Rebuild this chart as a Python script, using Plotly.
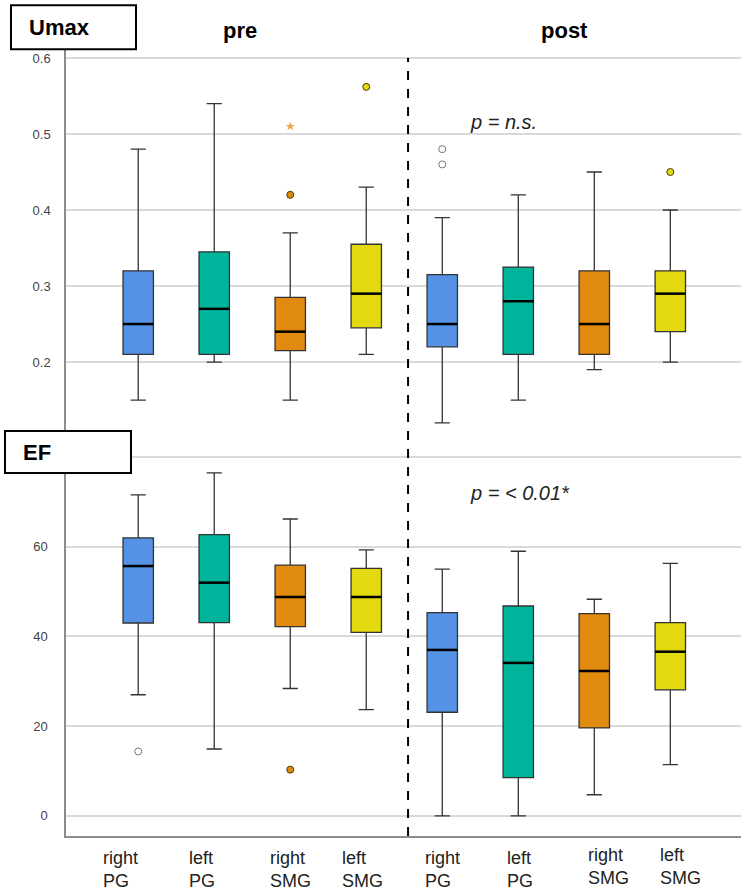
import plotly.graph_objects as go

# group order: pre (right PG, left PG, right SMG, left SMG), post (same)
group_labels = ["right<br>PG", "left<br>PG", "right<br>SMG", "left<br>SMG",
                "right<br>PG", "left<br>PG", "right<br>SMG", "left<br>SMG"]
positions = [0, 1, 2, 3, 4, 5, 6, 7]
box_colors = ["#5592e6", "#00b39b", "#e08a0e", "#e3d90f",
              "#5592e6", "#00b39b", "#e08a0e", "#e3d90f"]

# Umax box statistics
umax_low = [0.15, 0.20, 0.15, 0.21, 0.12, 0.15, 0.19, 0.20]
umax_q1 = [0.21, 0.21, 0.215, 0.245, 0.22, 0.21, 0.21, 0.24]
umax_med = [0.25, 0.27, 0.24, 0.29, 0.25, 0.28, 0.25, 0.29]
umax_q3 = [0.32, 0.345, 0.285, 0.355, 0.315, 0.325, 0.32, 0.32]
umax_high = [0.48, 0.54, 0.37, 0.43, 0.39, 0.42, 0.45, 0.40]

# Umax outliers
umax_fill_pos = [2, 3, 7]
umax_fill_val = [0.42, 0.562, 0.45]
umax_star_pos = [2]
umax_star_val = [0.51]
umax_open_pos = [4, 4]
umax_open_val = [0.48, 0.46]

# EF box statistics
ef_low = [27.0, 14.9, 28.4, 23.7, 0.0, 0.0, 4.7, 11.4]
ef_q1 = [43.0, 43.1, 42.2, 40.9, 23.1, 8.5, 19.6, 28.1]
ef_med = [55.7, 52.0, 48.8, 48.8, 37.0, 34.1, 32.3, 36.6]
ef_q3 = [62.0, 62.7, 55.9, 55.2, 45.3, 46.8, 45.1, 43.1]
ef_high = [71.6, 76.5, 66.2, 59.3, 55.0, 59.0, 48.3, 56.3]

# EF outliers
ef_fill_pos = [2]
ef_fill_val = [10.3]
ef_open_pos = [0]
ef_open_val = [14.35]

FONT = "Liberation Sans, Arial, sans-serif"
BOX_W = 0.4

fig = go.Figure()


def add_panel(low, q1, med, q3, high, yaxis):
    for i, p in enumerate(positions):
        fig.add_trace(go.Box(x=[p], q1=[q1[i]], median=[med[i]], q3=[q3[i]],
                             lowerfence=[low[i]], upperfence=[high[i]],
                             width=BOX_W, whiskerwidth=0.5,
                             fillcolor=box_colors[i],
                             line=dict(color="#333333", width=1.3),
                             boxpoints=False, hoverinfo="skip",
                             xaxis="x", yaxis=yaxis, showlegend=False))
    # thicker black median lines on top
    mx, my = [], []
    for i, p in enumerate(positions):
        mx += [p - BOX_W / 2, p + BOX_W / 2, None]
        my += [med[i], med[i], None]
    fig.add_trace(go.Scatter(x=mx, y=my, mode="lines",
                             line=dict(color="black", width=2.5),
                             xaxis="x", yaxis=yaxis, showlegend=False,
                             hoverinfo="skip"))


def add_points(pos, val, yaxis, symbol, fill=True):
    if fill:
        marker = dict(symbol=symbol, size=7,
                      color=[box_colors[p] for p in pos],
                      line=dict(color="#4a3a10", width=1))
    else:
        marker = dict(symbol=symbol, size=7, color="#777777",
                      line=dict(width=1))
    fig.add_trace(go.Scatter(x=pos, y=val, mode="markers", marker=marker,
                             xaxis="x", yaxis=yaxis, showlegend=False,
                             hoverinfo="skip"))


add_panel(umax_low, umax_q1, umax_med, umax_q3, umax_high, "y")
add_points(umax_fill_pos, umax_fill_val, "y", "circle")
add_points(umax_open_pos, umax_open_val, "y", "circle-open", fill=False)
fig.add_trace(go.Scatter(x=umax_star_pos, y=umax_star_val, mode="markers",
                         marker=dict(symbol="star", size=7, color="#f2a548"),
                         xaxis="x", yaxis="y", showlegend=False,
                         hoverinfo="skip"))

add_panel(ef_low, ef_q1, ef_med, ef_q3, ef_high, "y2")
add_points(ef_fill_pos, ef_fill_val, "y2", "circle")
add_points(ef_open_pos, ef_open_val, "y2", "circle-open", fill=False)

# dashed separator between pre and post
fig.add_shape(type="line", xref="x", yref="paper", x0=3.55, x1=3.55,
              y0=0, y1=0.99, line=dict(color="black", width=2, dash="dash"))

# panel label boxes
fig.add_shape(type="rect", xref="paper", yref="paper", x0=-0.0815, x1=0.1037,
              y0=1.001, y1=1.057, line=dict(color="black", width=2),
              fillcolor="white", layer="above")
fig.add_shape(type="rect", xref="paper", yref="paper", x0=-0.0904, x1=0.0963,
              y0=0.4618, y1=0.5153, line=dict(color="black", width=2),
              fillcolor="white", layer="above")

annotations = [
    dict(text="<b>Umax</b>", x=-0.0578, y=1.029, xanchor="left",
         font=dict(size=22, color="black")),
    dict(text="<b>EF</b>", x=-0.0667, y=0.4885, xanchor="left",
         font=dict(size=22, color="black")),
    dict(text="<b>pre</b>", x=0.2578, y=1.0254, xanchor="center",
         font=dict(size=22, color="black")),
    dict(text="<b>post</b>", x=0.7378, y=1.0254, xanchor="center",
         font=dict(size=22, color="black")),
    dict(text="<i>p = n.s.</i>", x=0.5956, y=0.9084, xanchor="left",
         font=dict(size=20, color="#222222")),
    dict(text="<i>p = &lt; 0.01*</i>", x=0.5956, y=0.4364, xanchor="left",
         font=dict(size=20, color="#222222")),
]
for a in annotations:
    a.update(xref="paper", yref="paper", yanchor="middle", showarrow=False)

# category labels under the axis
label_xshift = [-18, -12, 0, -4, 0, 2, 14, 10]
label_yshift = [0, 0, 0, 0, 0, 0, 3, 3]
for i, p in enumerate(positions):
    annotations.append(dict(text=group_labels[i], x=p, xref="x",
                            y=-0.0426, yref="paper", yanchor="middle",
                            xanchor="center", align="left", showarrow=False,
                            xshift=label_xshift[i], yshift=label_yshift[i],
                            font=dict(size=18, color="#222222")))

fig.update_layout(
    width=748, height=894,
    margin=dict(l=66, r=7, t=50, b=58),
    paper_bgcolor="white", plot_bgcolor="white",
    font=dict(family=FONT),
    showlegend=False,
    annotations=annotations,
    xaxis=dict(domain=[0, 1], range=[-0.95, 7.93], anchor="y2",
               showgrid=False, zeroline=False, showticklabels=False,
               showline=True, linecolor="#8c8c8c", linewidth=1.5),
    yaxis=dict(domain=[0.514, 1], range=[0.108, 0.6105], anchor="x",
               tickvals=[0.2, 0.3, 0.4, 0.5, 0.6],
               ticktext=["0.2", "0.3", "0.4", "0.5", "0.6"],
               showgrid=True, gridcolor="#d9d9d9", gridwidth=1.5,
               zeroline=False, showline=True, linecolor="#8c8c8c",
               linewidth=1.5, ticks="", ticklabelstandoff=11,
               tickfont=dict(size=13, color="#444444")),
    yaxis2=dict(domain=[0, 0.514], range=[-4.5, 85.6], anchor="x",
                tickvals=[0, 20, 40, 60, 80],
                ticktext=["0", "20", "40", "60", ""],
                showgrid=True, gridcolor="#d9d9d9", gridwidth=1.5,
                zeroline=False, showline=True, linecolor="#8c8c8c",
                linewidth=1.5, ticks="", ticklabelstandoff=14,
                tickfont=dict(size=13, color="#444444")),
)

# drop the default page margin so the figure sits at the window corner
fig.write_html("out.html", config={"displayModeBar": False},
               post_script="document.body.style.margin='0';")
